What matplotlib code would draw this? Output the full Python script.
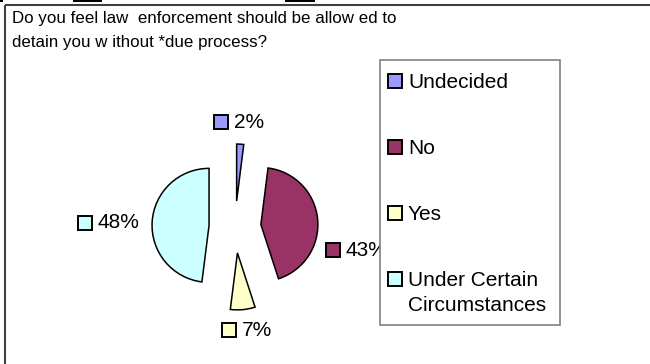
import matplotlib
matplotlib.use("Agg")
import matplotlib.pyplot as plt
from matplotlib.patches import Rectangle

plt.rcParams["font.family"] = ["Liberation Sans", "DejaVu Sans"]

# Survey answers and their shares (percent)
categories = ["Undecided", "No", "Yes", "Under Certain\nCircumstances"]
shares = [2, 43, 7, 48]
colors = ["#9999FF", "#993366", "#FFFFCC", "#CCFFFF"]
title_lines = ["Do you feel law  enforcement should be allow ed to",
               "detain you w ithout *due process?"]

W, H = 650, 364
fig = plt.figure(figsize=(W / 100, H / 100), dpi=100)
ax = fig.add_axes([0, 0, 1, 1])


def py(y):
    """Convert a top-down pixel row into the axes' bottom-up coordinate."""
    return H - y


# Exploded pie, first slice starting at 12 o'clock, running clockwise
pie_radius = 57
wedges, _ = ax.pie(
    shares,
    colors=colors,
    explode=[26] * len(shares),
    startangle=90,
    counterclock=False,
    center=(235, py(227)),
    radius=pie_radius,
    wedgeprops=dict(edgecolor="black", linewidth=1.1),
    frame=False,
)
ax.set_xlim(0, W)
ax.set_ylim(0, H)
ax.set_aspect("equal")
ax.axis("off")

# Percentage labels, each with a small colour key
label_anchor = [(214, 122), (326, 250), (222, 330), (78, 223)]
for (lx, ly), val, col in zip(label_anchor, shares, colors):
    ax.plot(lx + 7, py(ly), marker="s", markersize=10, markerfacecolor=col,
            markeredgecolor="black", markeredgewidth=1.4, zorder=3)
    ax.text(lx + 20, py(ly), f"{val}%", fontsize=15, ha="left", va="center",
            zorder=3)

# Legend box, drawn above the labels
ax.add_patch(Rectangle((380, py(325)), 180, 265, facecolor="white",
                       edgecolor="#808080", linewidth=1.2, zorder=5))
for i, (name, col) in enumerate(zip(categories, colors)):
    yc = 81 + 66 * i
    ax.plot(395, py(yc), marker="s", markersize=10.5, markerfacecolor=col,
            markeredgecolor="black", markeredgewidth=1.4, zorder=6)
    ax.text(408, py(yc) + 8, name, fontsize=15, ha="left", va="top",
            linespacing=1.38, zorder=6)

# Title
ax.text(12, py(18), title_lines[0], fontsize=12.2, ha="left", va="center")
ax.text(12, py(43), title_lines[1], fontsize=12.2, ha="left", va="center")

# Chart area frame (top and left edges)
ax.plot([5, 5], [py(5), py(H + 2)], color="#404040", linewidth=1.5,
        solid_capstyle="butt")
ax.plot([5, W + 2], [py(5), py(5)], color="#404040", linewidth=1.5,
        solid_capstyle="butt")

# Fragments of the row above
for x0, x1 in [(0, 3), (73, 102), (285, 315)]:
    ax.add_patch(Rectangle((x0, py(1.5)), x1 - x0, 1.5, facecolor="black",
                           edgecolor="none"))

fig.savefig("out.png", dpi=100)
